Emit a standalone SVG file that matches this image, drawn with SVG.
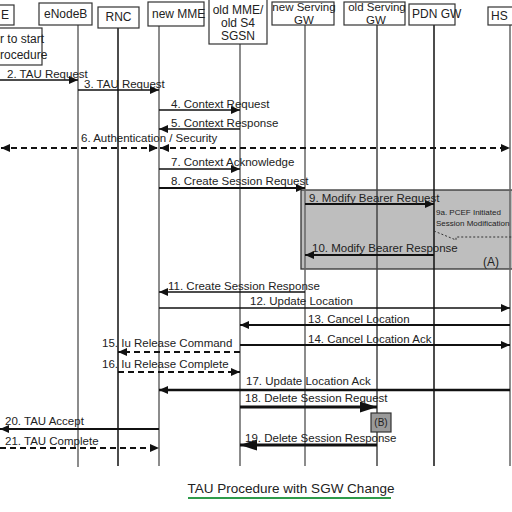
<svg xmlns="http://www.w3.org/2000/svg" width="512" height="512" viewBox="0 0 512 512">
<style>
.hb{fill:#fff;stroke:#333;stroke-width:1.2}
.ht{font-family:"Liberation Sans",Arial,sans-serif;font-size:12px;fill:#222}
.hs{font-family:"Liberation Sans",Arial,sans-serif;font-size:11.5px;fill:#222}
.ll{stroke:#666;stroke-width:1.5}
.lt{font-family:"Liberation Sans",Arial,sans-serif;font-size:11.5px;fill:#222}
.m{stroke:#111;stroke-width:1.7;fill:none;marker-end:url(#a)}
.d{stroke:#111;stroke-width:1.8;fill:none;stroke-dasharray:6 4;marker-end:url(#a)}
.k{stroke:#111;stroke-width:3;fill:none;marker-end:url(#b)}
</style>
<defs>
<marker id="a" viewBox="0 0 9 8" refX="9" refY="4" markerWidth="9" markerHeight="8" markerUnits="userSpaceOnUse" orient="auto-start-reverse"><path d="M0,0 L9,4 L0,8 z" fill="#111"/></marker>
<marker id="b" viewBox="0 0 17 11" refX="17" refY="5.5" markerWidth="17" markerHeight="11" markerUnits="userSpaceOnUse" orient="auto"><path d="M0,0 L17,5.5 L0,11 z" fill="#111"/></marker>
</defs>
<rect width="512" height="512" fill="#fff"/>

<g id="boxA">
<rect x="301" y="190" width="216" height="79" fill="#bebebe" stroke="#333" stroke-width="1.3"/>
<text x="483" y="266" class="lt" style="font-size:12px">(A)</text>
</g>

<g id="lifelines">
<line class="ll" x1="78" y1="25" x2="78" y2="467"/>
<line class="ll" x1="118" y1="28" x2="118" y2="466" style="stroke:#111"/>
<line class="ll" x1="159" y1="26" x2="159" y2="466"/>
<line class="ll" x1="240" y1="44" x2="240" y2="466"/>
<line class="ll" x1="305" y1="25" x2="305" y2="466"/>
<line class="ll" x1="377" y1="25" x2="377" y2="466" style="stroke:#444"/>
<line class="ll" x1="434" y1="25" x2="434" y2="466" style="stroke:#111"/>
<line class="ll" x1="510" y1="25" x2="510" y2="466"/>
</g>

<g id="UE"><rect class="hb" x="-40" y="5" width="54" height="20"/><text class="ht" x="1" y="19">E</text></g>
<g id="note"><rect class="hb" x="-40" y="28" width="82" height="37"/><text class="ht" x="0" y="43">r to start</text><text class="ht" x="0" y="59">rocedure</text></g>
<g id="eNodeB"><rect class="hb" x="39" y="3" width="53" height="22"/><text class="ht" x="44" y="18">eNodeB</text></g>
<g id="RNC"><rect class="hb" x="98" y="7" width="41" height="21"/><text class="ht" x="118.5" y="21" text-anchor="middle">RNC</text></g>
<g id="newMME"><rect class="hb" x="148" y="2" width="56" height="24"/><text class="ht" x="152" y="18">new MME</text></g>
<g id="oldMME"><rect class="hb" x="209" y="-1" width="58" height="45"/><text class="ht" x="238" y="14" text-anchor="middle">old MME/</text><text class="ht" x="238" y="27" text-anchor="middle">old S4</text><text class="ht" x="238" y="40" text-anchor="middle">SGSN</text></g>
<g id="newSGW"><rect class="hb" x="272" y="2" width="62" height="23"/><text class="hs" x="304" y="10.5" text-anchor="middle">new Serving</text><text class="hs" x="304" y="24" text-anchor="middle">GW</text></g>
<g id="oldSGW"><rect class="hb" x="344" y="2" width="61" height="23"/><text class="hs" x="377" y="10.5" text-anchor="middle">old Serving</text><text class="hs" x="376" y="24" text-anchor="middle">GW</text></g>
<g id="PDNGW"><rect class="hb" x="409" y="4" width="46" height="21"/><text class="ht" x="412" y="18">PDN GW</text></g>
<g id="HSS"><rect class="hb" x="488" y="7" width="45" height="18"/><text class="ht" x="491" y="20">HS</text></g>

<g id="connectors">
<line class="m" x1="0" y1="80" x2="78" y2="80"/>
<line class="m" x1="78" y1="90" x2="159" y2="90"/>
<line class="m" x1="159" y1="110" x2="240" y2="110"/>
<line class="m" x1="240" y1="129" x2="159" y2="129"/>
<line class="d" x1="1" y1="148" x2="158" y2="148" marker-start="url(#a)"/>
<line class="d" x1="160" y1="148" x2="510" y2="148" marker-start="url(#a)"/>
<line class="m" x1="159" y1="169" x2="240" y2="169"/>
<line class="m" x1="159" y1="188" x2="305" y2="188" style="stroke-width:2"/>
<line class="m" x1="305" y1="204" x2="434" y2="204" style="stroke-width:2"/>
<line class="m" x1="434" y1="255" x2="305" y2="255" style="stroke-width:2"/>
<polyline points="434,231 456,240 456,237 512,237" fill="none" stroke="#333" stroke-width="1" stroke-dasharray="2 2"/>
<line class="m" x1="305" y1="292" x2="159" y2="292" style="stroke-width:1.4"/>
<line class="m" x1="159" y1="308" x2="510" y2="308" style="stroke-width:1.4"/>
<line class="m" x1="510" y1="325" x2="240" y2="325" style="stroke-width:2.2"/>
<line class="m" x1="240" y1="345" x2="510" y2="345" style="stroke-width:2.2"/>
<line class="d" x1="240" y1="352" x2="118" y2="352"/>
<line class="d" x1="118" y1="372" x2="240" y2="372"/>
<line class="m" x1="510" y1="390" x2="159" y2="390" style="stroke-width:2.4"/>
<line class="k" x1="240" y1="407" x2="377" y2="407"/>
<line class="k" x1="377" y1="445" x2="240" y2="445"/>
<line class="m" x1="159" y1="429" x2="0" y2="429" style="stroke-width:2.2"/>
<line class="d" x1="0" y1="448" x2="159" y2="448"/>
</g>

<g id="labels">
<text class="lt" x="7" y="78">2. TAU Request</text>
<text class="lt" x="84" y="88">3. TAU Request</text>
<text class="lt" x="171" y="108">4. Context Request</text>
<text class="lt" x="171" y="127">5. Context Response</text>
<text class="lt" x="81" y="142">6. Authentication / Security</text>
<text class="lt" x="171" y="166">7. Context Acknowledge</text>
<text class="lt" x="171" y="185">8. Create Session Request</text>
<text class="lt" x="309" y="202">9. Modify Bearer Request</text>
<text class="lt" x="436" y="215" style="font-size:8px">9a. PCEF Initiated</text>
<text class="lt" x="436" y="226" style="font-size:8px">Session Modification</text>
<text class="lt" x="312" y="252">10. Modify Bearer Response</text>
<text class="lt" x="168" y="290">11. Create Session Response</text>
<text class="lt" x="250" y="305">12. Update Location</text>
<text class="lt" x="308" y="323">13. Cancel Location</text>
<text class="lt" x="308" y="343">14. Cancel Location Ack</text>
<text class="lt" x="102" y="347">15. Iu Release Command</text>
<text class="lt" x="102" y="368">16. Iu Release Complete</text>
<text class="lt" x="246" y="385">17. Update Location Ack</text>
<text class="lt" x="245" y="402">18. Delete Session Request</text>
<text class="lt" x="245" y="442">19. Delete Session Response</text>
<text class="lt" x="5" y="425">20. TAU Accept</text>
<text class="lt" x="5" y="445">21. TAU Complete</text>
</g>

<g id="boxB"><rect x="371" y="413" width="20" height="19" fill="#9a9a9a" stroke="#333" stroke-width="1.2"/><text class="lt" x="381" y="426" text-anchor="middle" style="font-size:10px">(B)</text></g>

<g id="title">
<text x="291" y="493" text-anchor="middle" font-family="'Liberation Sans',Arial,sans-serif" font-size="13.5px" fill="#222">TAU Procedure with SGW Change</text>
<line x1="188" y1="498" x2="391" y2="498" stroke="#2e9a4a" stroke-width="2"/>
</g>
</svg>
